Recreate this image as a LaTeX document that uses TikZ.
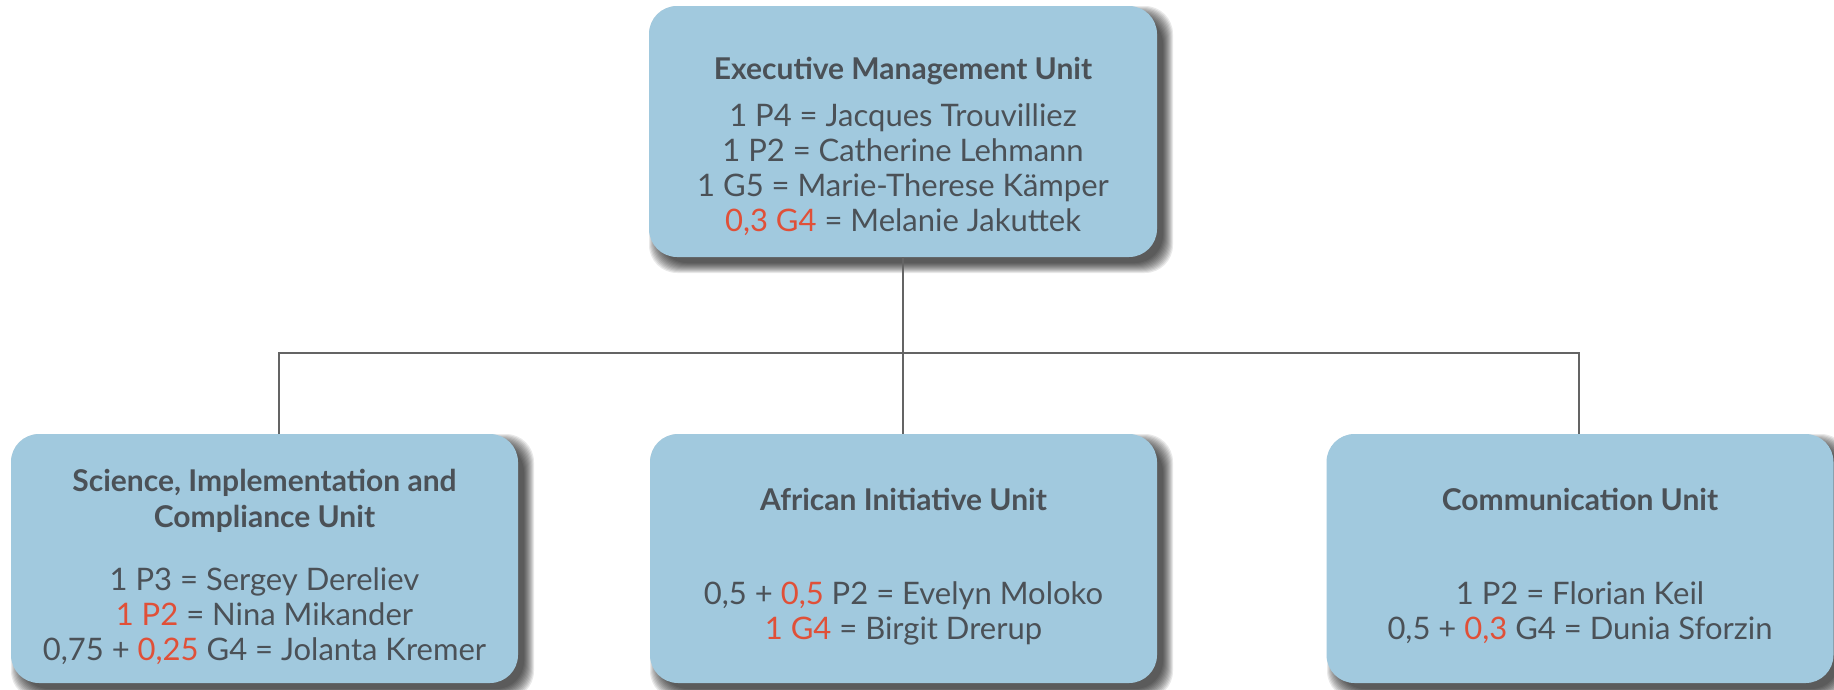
\documentclass[tikz,border=0pt]{standalone}
\usepackage{fontspec}
\setmainfont{Lato}
\definecolor{boxfill}{RGB}{161,201,222}
\definecolor{txt}{RGB}{75,81,87}
\definecolor{accent}{RGB}{224,80,56}
\definecolor{linec}{RGB}{100,100,100}
\newcommand\myshadow[4]{%
  \foreach \s in {0,...,10}{%
    \fill[black,opacity=0.085,rounded corners=28pt] ({#1+\s},{#2+\s}) rectangle ({#3+16-\s},{#4+16-\s});%
  }%
}
\newcommand\rd[1]{\textcolor{accent}{#1}}
\begin{document}
\begin{tikzpicture}[x=1pt,y=-1pt,
  unitbox/.style={rectangle, rounded corners=28pt, fill=boxfill, inner sep=0pt, outer sep=0pt, minimum width=507pt},
  ttl/.style={font=\fontsize{30}{36}\selectfont\bfseries, text=txt, anchor=base, inner sep=0pt},
  bodyl/.style={font=\fontsize{31}{36}\selectfont, text=txt, anchor=base, inner sep=0pt},
  conn/.style={draw=linec, line width=2pt}]
\useasboundingbox (0,0) rectangle (1834,689);
\fill[white] (0,0) rectangle (1834,689);
% shadows
\myshadow{649}{6}{1157}{257}
\myshadow{11}{434}{518}{683}
\myshadow{650}{434}{1157}{683}
\myshadow{1327}{434}{1833}{683}
% boxes
\coordinate (bus) at (903,353);
\node[unitbox, minimum width=508pt, minimum height=251pt] (exec) at (903,131.5) {};
\node[unitbox, minimum height=249pt] (sci) at (264.5,558.5) {};
\node[unitbox, minimum height=249pt] (afr) at (903.5,558.5) {};
\node[unitbox, minimum height=249pt] (com) at (1580,558.5) {};
% connectors
\draw[conn] (exec.south) -- (exec.south |- afr.north);
\draw[conn] ([xshift=14.5pt]sci.north) |- (bus) -| ([xshift=-1pt]com.north);
% texts
\node[ttl] (t1) at (903,79) {Executive Management Unit};
\node[bodyl] (e1) at (903,126) {1 P4 = Jacques Trouvilliez};
\node[bodyl] (e2) at (903,161) {1 P2 = Catherine Lehmann};
\node[bodyl] (e3) at (903,196) {1 G5 = Marie-Therese Kämper};
\node[bodyl] (e4) at (903,231) {\rd{0,3 G4} = Melanie Jakuttek};
\node[ttl] (t2a) at (264.5,491) {Science, Implementation and};
\node[ttl] (t2b) at (264.5,527) {Compliance Unit};
\node[bodyl] (s1) at (264.5,590) {1 P3 = Sergey Dereliev};
\node[bodyl] (s2) at (264.5,625) {\rd{1 P2} = Nina Mikander};
\node[bodyl] (s3) at (264.5,660) {0,75 + \rd{0,25} G4 = Jolanta Kremer};
\node[ttl] (t3) at (903.5,510) {African Initiative Unit};
\node[bodyl] (a1) at (903.5,604) {0,5 + \rd{0,5} P2 = Evelyn Moloko};
\node[bodyl] (a2) at (903.5,639) {\rd{1 G4} = Birgit Drerup};
\node[ttl] (t4) at (1580,510) {Communication Unit};
\node[bodyl] (c1) at (1580,604) {1 P2 = Florian Keil};
\node[bodyl] (c2) at (1580,639) {0,5 + \rd{0,3} G4 = Dunia Sforzin};
\end{tikzpicture}
\end{document}
